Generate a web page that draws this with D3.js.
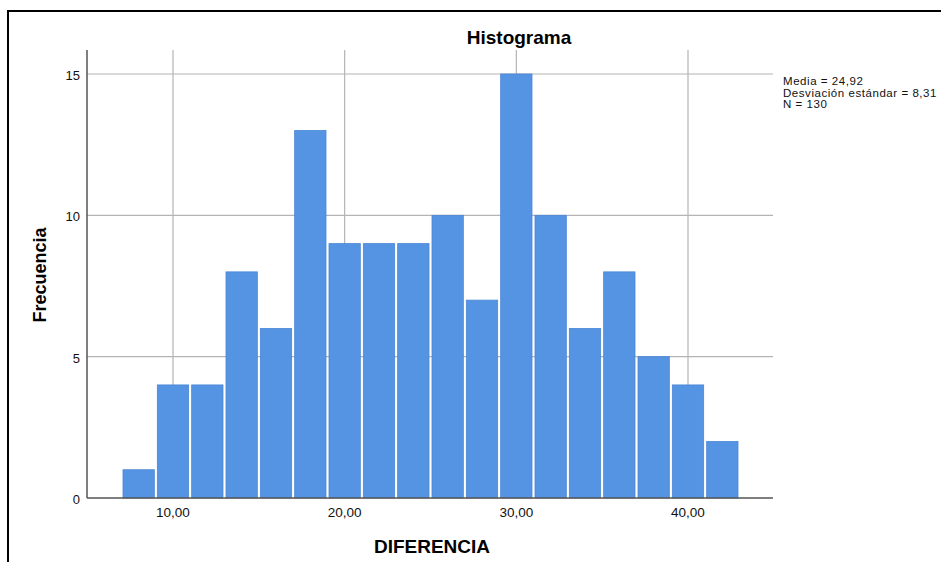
<!DOCTYPE html>
<html><head><meta charset="utf-8">
<script src="https://cdn.jsdelivr.net/npm/d3@7"></script>
<style>body{margin:0;background:#fff}svg{display:block}text{font-family:"Liberation Sans",Arial,sans-serif}</style>
</head><body>
<svg id="c" width="941" height="562"></svg>
<script>
const binStarts = [7,9,11,13,15,17,19,21,23,25,27,29,31,33,35,37,39,41];
const binWidth = 2;
const counts = [1,4,4,8,6,13,9,9,9,10,7,15,10,6,8,5,4,2];
const xTicks = [10,20,30,40];
const yTicks = [0,5,10,15];
const statsLines = ["Media = 24,92","Desviación estándar = 8,31","N = 130"];

const svg = d3.select("#c");
const L=87,R=773,T=50,B=498;
const x = d3.scaleLinear().domain([10,40]).range([173,688]);
const y = d3.scaleLinear().domain([0,15]).range([B,74]);

// frame
svg.append("path").attr("d","M8,562 V11 H941").attr("fill","none").attr("stroke","#000").attr("stroke-width",2);

// grid
const g = svg.append("g");
g.selectAll(".hg").data(yTicks.filter(d=>d>0)).join("line")
 .attr("x1",L).attr("x2",R).attr("y1",d=>y(d)).attr("y2",d=>y(d))
 .attr("stroke","#b4b4b4").attr("stroke-width",1.2);
g.selectAll(".vg").data(xTicks).join("line")
 .attr("x1",d=>x(d)).attr("x2",d=>x(d)).attr("y1",T).attr("y2",B)
 .attr("stroke","#b4b4b4").attr("stroke-width",1.2);

// bars
svg.append("g").selectAll("rect").data(counts).join("rect")
 .attr("x",(d,i)=>x(binStarts[i])+1.5)
 .attr("width",(d,i)=>x(binStarts[i]+binWidth)-x(binStarts[i])-3)
 .attr("y",d=>y(d)).attr("height",d=>B-y(d))
 .attr("fill","#5594e2").attr("stroke","#4a86d6").attr("stroke-width",0.8);

// axes lines
svg.append("line").attr("x1",L).attr("x2",L).attr("y1",T).attr("y2",B).attr("stroke","#555").attr("stroke-width",1.5);
svg.append("line").attr("x1",L).attr("x2",R).attr("y1",B).attr("y2",B).attr("stroke","#555").attr("stroke-width",1.5);

// tick labels
svg.append("g").selectAll("text").data(yTicks).join("text")
 .attr("x",80).attr("y",d=>y(d)+6).attr("text-anchor","end")
 .attr("font-size",13).attr("fill","#111").text(d=>d);
const fmt = d=>d.toFixed(2).replace(".",",");
svg.append("g").selectAll("text").data(xTicks).join("text")
 .attr("x",d=>x(d)).attr("y",517).attr("text-anchor","middle")
 .attr("font-size",13.5).attr("fill","#111").text(fmt);

// titles
svg.append("text").attr("x",519).attr("y",44).attr("text-anchor","middle")
 .attr("font-size",19).attr("font-weight","bold").text("Histograma");
svg.append("text").attr("x",432).attr("y",553).attr("text-anchor","middle")
 .attr("font-size",19).attr("font-weight","bold").text("DIFERENCIA");
svg.append("text").attr("transform","translate(46,275) rotate(-90)").attr("text-anchor","middle")
 .attr("font-size",18).attr("font-weight","bold").text("Frecuencia");

// stats
svg.append("g").selectAll("text").data(statsLines).join("text")
 .attr("x",783).attr("y",(d,i)=>85+i*11.5)
 .attr("font-size",11.5).attr("letter-spacing",0.55).attr("fill","#111").text(d=>d);
</script>
</body></html>
